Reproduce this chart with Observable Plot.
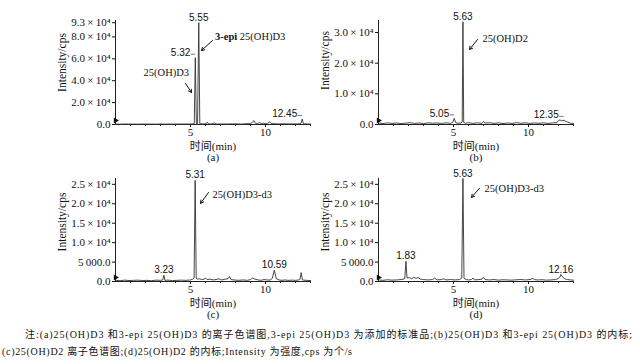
<!DOCTYPE html>
<html>
<head>
<meta charset="utf-8">
<script src="https://cdn.jsdelivr.net/npm/d3@7"></script>
<script src="https://cdn.jsdelivr.net/npm/@observablehq/plot@0.6"></script>
<style>
  html, body { margin: 0; padding: 0; background: #fff; }
  #root { position: relative; width: 640px; height: 364px; overflow: hidden; background: #fff; }
  .pnl { position: absolute; }
  #cap { position: absolute; left: 0; top: 320px; }
</style>
</head>
<body>
<div id="root"></div>
<script>
// ---------- data ----------
const X_TICKS = [5, 10];
const X_MINOR = [1, 2, 3, 4, 5, 6, 7, 8, 9, 10, 11, 12, 13];
const X_TITLE = "时间(min)";
const Y_TITLE = "Intensity/cps";

// (a)
const A_TIME = [0.0,0.3,0.6,0.9,1.2,1.5,1.8,2.1,2.4,2.7,3.0,3.3,3.6,3.9,4.2,4.5,4.8,5.1,5.25,5.32,5.39,5.47,5.55,5.62,5.75,5.9,6.05,6.12,6.2,6.35,6.5,6.58,6.7,6.9,7.2,7.5,7.8,8.1,8.4,8.7,9.0,9.12,9.22,9.32,9.45,9.6,9.72,9.85,10.0,10.15,10.28,10.38,10.5,10.7,10.9,11.2,11.5,11.8,12.1,12.3,12.38,12.45,12.52,12.6,12.8,13.0];
const A_INT  = [400,300,450,350,400,300,450,350,400,300,450,350,400,350,450,400,450,500,700,61000,600,800,93000,700,600,500,700,2200,600,500,700,1500,500,400,500,400,600,500,400,700,800,1800,3600,1200,900,1600,900,1200,700,1000,2400,900,700,600,500,700,500,600,500,700,1500,5000,900,700,500,400];
const A_YTICKS  = [0, 20000, 40000, 60000, 80000, 93000];
const A_YLABELS = ["0.0", "2.0\u2009×\u200910⁴", "4.0\u2009×\u200910⁴", "6.0\u2009×\u200910⁴", "8.0\u2009×\u200910⁴", "9.3\u2009×\u200910⁴"];
const A_TOP = ["5.55"];            const A_TOP_T = [5.55];  const A_TOP_V = [93000];
const A_SIDE = ["5.32", "12.45"];  const A_SIDE_T = [5.32, 12.45]; const A_SIDE_V = [61000, 5000];
const A_ANN = ["25(OH)D3"];        const A_ANN_T = [1.87]; const A_ANN_V = [47500];
const A_EPI = {bold: "3-epi", rest: " 25(OH)D3", t: 6.67, v: 79400};
const A_ARROW = {t1: [4.67, 6.47], v1: [37400, 76700], t2: [5.07, 5.73], v2: [29200, 67600]};

// (b)
const B_TIME = [0.0,0.3,0.6,0.9,1.2,1.5,1.8,2.1,2.4,2.7,3.0,3.3,3.6,3.9,4.2,4.5,4.8,4.95,5.05,5.15,5.3,5.5,5.58,5.63,5.68,5.8,6.0,6.3,6.6,6.9,7.0,7.1,7.4,7.7,8.0,8.3,8.6,8.9,9.2,9.5,9.8,10.1,10.4,10.7,11.0,11.3,11.6,11.9,12.0,12.1,12.2,12.3,12.4,12.5,12.6,12.7,12.8,13.0];
const B_INT  = [500,300,550,350,500,300,450,600,350,500,300,550,400,500,350,550,400,700,2000,600,400,500,800,33500,700,400,600,350,550,400,1000,450,600,350,550,300,500,350,600,400,550,350,500,400,550,350,500,600,1300,1500,1200,1400,1300,1000,800,600,400,350];
const B_YTICKS  = [0, 10000, 20000, 30000];
const B_YLABELS = ["0.0", "1.0\u2009×\u200910⁴", "2.0\u2009×\u200910⁴", "3.0\u2009×\u200910⁴"];
const B_TOP = ["5.63"];            const B_TOP_T = [5.63];  const B_TOP_V = [33500];
const B_SIDE = ["5.05", "12.35"];  const B_SIDE_T = [5.05, 12.35]; const B_SIDE_V = [2000, 1500];
const B_ANN = ["25(OH)D2"];        const B_ANN_T = [6.93]; const B_ANN_V = [28000];
const B_ARROW = {t1: [6.6], v1: [27700], t2: [6.07], v2: [24450]};

// (c)
const C_TIME = [0.0,0.3,0.6,0.9,1.2,1.5,1.8,2.1,2.4,2.7,3.0,3.15,3.23,3.3,3.5,3.8,4.1,4.4,4.7,5.0,5.15,5.24,5.31,5.38,5.5,5.6,5.75,5.9,6.0,6.1,6.3,6.5,6.7,6.9,7.0,7.1,7.3,7.5,7.6,7.7,7.9,8.2,8.5,8.8,9.0,9.15,9.3,9.5,9.7,9.9,10.1,10.3,10.45,10.59,10.72,10.9,11.1,11.3,11.5,11.8,12.0,12.2,12.3,12.38,12.46,12.7,13.0];
const C_INT  = [300,200,350,250,300,350,250,300,200,350,300,400,1600,300,350,250,300,350,300,400,600,900,26000,800,600,700,500,600,900,500,600,400,500,700,500,400,600,700,1300,500,400,300,400,300,500,900,600,400,300,500,400,350,800,2900,700,400,300,400,300,350,300,400,600,2300,400,300,250];
const C_YTICKS  = [0, 5000, 10000, 15000, 20000, 25000];
const C_YLABELS = ["0.0", "5\u2009000.0", "1.0\u2009×\u200910⁴", "1.5\u2009×\u200910⁴", "2.0\u2009×\u200910⁴", "2.5\u2009×\u200910⁴"];
const C_TOP = ["5.31", "3.23", "10.59"]; const C_TOP_T = [5.31, 3.23, 10.59]; const C_TOP_V = [26000, 1600, 2900];
const C_ANN = ["25(OH)D3-d3"];     const C_ANN_T = [6.47]; const C_ANN_V = [22400];
const C_ARROW = {t1: [6.2], v1: [22900], t2: [5.67], v2: [20100]};

// (d)
const D_TIME = [0.0,0.3,0.6,0.9,1.2,1.5,1.75,1.83,1.9,2.05,2.2,2.35,2.5,2.65,2.8,3.0,3.3,3.6,3.75,3.9,4.2,4.35,4.5,4.8,5.1,5.4,5.55,5.63,5.7,5.85,6.0,6.2,6.3,6.4,6.7,6.9,7.0,7.1,7.4,7.7,8.0,8.3,8.6,8.9,9.2,9.5,9.8,10.1,10.3,10.4,10.6,10.9,11.2,11.5,11.8,12.0,12.1,12.16,12.25,12.4,12.6,12.8,13.0];
const D_INT  = [400,300,450,350,400,500,700,5200,900,1000,700,1100,800,1000,600,500,400,500,900,400,500,700,400,500,400,500,900,26500,800,500,400,500,900,400,500,600,1100,500,400,500,350,450,400,350,450,500,400,500,800,500,400,450,350,400,500,800,1200,1800,1300,700,500,400,350];
const D_YTICKS  = C_YTICKS;
const D_YLABELS = C_YLABELS;
const D_TOP = ["5.63", "1.83", "12.16"]; const D_TOP_T = [5.63, 1.83, 12.16]; const D_TOP_V = [26500, 5200, 1800];
const D_ANN = ["25(OH)D3-d3"];     const D_ANN_T = [7.07]; const D_ANN_V = [23970];
const D_ARROW = {t1: [6.73], v1: [23970], t2: [6.2], v2: [21650]};

const PANEL_TAGS = ["(a)", "(b)", "(c)", "(d)"];
const CAPTION = [
  "注:(a)25(OH)D3 和3-epi 25(OH)D3 的离子色谱图,3-epi 25(OH)D3 为添加的标准品;(b)25(OH)D3 和3-epi 25(OH)D3 的内标;",
  "(c)25(OH)D2 离子色谱图;(d)25(OH)D2 的内标;Intensity 为强度,cps 为个/s"
];

// ---------- drawing ----------
const SERIF = "'Liberation Serif', 'Noto Sans CJK SC', serif";
const SANS = "'Liberation Sans', Arial, sans-serif";

function zipPts(ts, vs, extra) {
  return ts.map((t, i) => Object.assign({t, v: vs[i]}, extra ? extra(i) : {}));
}

function panel(o) {
  const rows = zipPts(o.time, o.int);
  const yLab = new Map(o.yticks.map((d, i) => [d, o.ylabels[i]]));
  const tops = zipPts(o.topT, o.topV, i => ({label: o.top[i]}));
  const sides = o.side ? zipPts(o.sideT, o.sideV, i => ({label: o.side[i]})) : [];
  const anns = zipPts(o.annT, o.annV, i => ({label: o.ann[i]}));
  const arrows = o.arrow.t1.map((t, i) => ({x1: t, y1: o.arrow.v1[i], x2: o.arrow.t2[i], y2: o.arrow.v2[i]}));
  const marks = [
    Plot.axisX({ticks: X_MINOR, tickSize: 2, tickFormat: () => "", label: null, stroke: "#222"}),
    Plot.axisX({ticks: X_TICKS, tickSize: 3, tickPadding: 1, label: null, fontSize: 11, fontFamily: SERIF}),
    Plot.axisY({ticks: o.yticks, tickFormat: d => yLab.get(d), tickSize: 3, tickPadding: 2, label: null, fontSize: 11, fontFamily: SERIF}),
    Plot.ruleX([0], {stroke: "#222"}),
    Plot.ruleY([0], {stroke: "#222"}),
    Plot.line(rows, {x: "t", y: "v", stroke: "#333", strokeWidth: 0.9}),
    Plot.dot([{t: 0, v: 0}], {x: "t", y: "v", symbol: "triangle", rotate: 90, r: 2.2, fill: "#111", stroke: "none", dy: -4}),
    Plot.text(tops, {x: "t", y: "v", text: "label", lineAnchor: "bottom", dy: -2, fontFamily: SANS, fontSize: 10, fill: "#111"}),
    Plot.text(sides, {x: "t", y: "v", text: "label", textAnchor: "end", dx: -5, dy: -5, fontFamily: SANS, fontSize: 10, fill: "#111"}),
    Plot.link(sides, {x1: d => d.t - 0.3, y1: d => d.v, x2: "t", y2: "v", dy: -3.5, stroke: "#444", strokeWidth: 0.7}),
    Plot.text(anns, {x: "t", y: "v", text: "label", textAnchor: "start", fontFamily: SERIF, fontSize: 10.5, fill: "#111"}),
    Plot.arrow(arrows, {x1: "x1", y1: "y1", x2: "x2", y2: "y2", stroke: "#111", strokeWidth: 1, headLength: 5}),
    Plot.text([Y_TITLE], {frameAnchor: "left", textAnchor: "middle", lineAnchor: "middle", rotate: -90, dx: -(o.ml - o.ylx), dy: o.yly, fontFamily: SERIF, fontSize: 11.5, fill: "#111"}),
    Plot.text([X_TITLE], {frameAnchor: "bottom", lineAnchor: "middle", dy: 22, fontFamily: SERIF, fontSize: 11, fill: "#111"}),
    Plot.text([o.tag], {frameAnchor: "bottom", lineAnchor: "middle", dy: 33, fontFamily: SERIF, fontSize: 11, fill: "#111"})
  ];
  const svg = Plot.plot({
    width: o.w, height: o.h,
    marginLeft: o.ml, marginRight: o.mr, marginTop: o.mt, marginBottom: o.mb,
    style: {background: "transparent", color: "#111", fontFamily: SERIF, overflow: "visible"},
    x: {domain: [0, 13], label: null},
    y: {domain: [0, o.ymax], label: null},
    marks
  });
  svg.classList.add("pnl");
  svg.style.left = o.left + "px";
  svg.style.top = o.top0 + "px";
  return svg;
}

const root = document.getElementById("root");

const pa = panel({
  time: A_TIME, int: A_INT, yticks: A_YTICKS, ylabels: A_YLABELS, ymax: 95000,
  top: A_TOP, topT: A_TOP_T, topV: A_TOP_V, side: A_SIDE, sideT: A_SIDE_T, sideV: A_SIDE_V,
  ann: A_ANN, annT: A_ANN_T, annV: A_ANN_V, arrow: A_ARROW, tag: PANEL_TAGS[0],
  w: 320, h: 165, ml: 115, mr: 10, mt: 20, mb: 41, left: 0, top0: 0, ylx: 62, yly: -10
});
root.appendChild(pa);

const pb = panel({
  time: B_TIME, int: B_INT, yticks: B_YTICKS, ylabels: B_YLABELS, ymax: 33900,
  top: B_TOP, topT: B_TOP_T, topV: B_TOP_V, side: B_SIDE, sideT: B_SIDE_T, sideV: B_SIDE_V,
  ann: B_ANN, annT: B_ANN_T, annV: B_ANN_V, arrow: B_ARROW, tag: PANEL_TAGS[1],
  w: 320, h: 165, ml: 58, mr: 67, mt: 20, mb: 41, left: 320, top0: 0, ylx: 5, yly: -12
});
root.appendChild(pb);

const pc = panel({
  time: C_TIME, int: C_INT, yticks: C_YTICKS, ylabels: C_YLABELS, ymax: 26500,
  top: C_TOP, topT: C_TOP_T, topV: C_TOP_V,
  ann: C_ANN, annT: C_ANN_T, annV: C_ANN_V, arrow: C_ARROW, tag: PANEL_TAGS[2],
  w: 320, h: 155, ml: 115, mr: 10, mt: 13, mb: 39, left: 0, top0: 165, ylx: 62, yly: -8
});
root.appendChild(pc);

const pd = panel({
  time: D_TIME, int: D_INT, yticks: D_YTICKS, ylabels: D_YLABELS, ymax: 26500,
  top: D_TOP, topT: D_TOP_T, topV: D_TOP_V,
  ann: D_ANN, annT: D_ANN_T, annV: D_ANN_V, arrow: D_ARROW, tag: PANEL_TAGS[3],
  w: 320, h: 155, ml: 58, mr: 67, mt: 13, mb: 39, left: 320, top0: 165, ylx: 5, yly: -8
});
root.appendChild(pd);

// "3-epi 25(OH)D3" with bold prefix, placed through panel (a)'s scales
{
  const xs = pa.scale("x"), ys = pa.scale("y");
  const px = xs.apply(A_EPI.t), py = ys.apply(A_EPI.v);
  const ns = "http://www.w3.org/2000/svg";
  const t = document.createElementNS(ns, "text");
  t.setAttribute("x", px); t.setAttribute("y", py);
  t.setAttribute("dy", "0.32em");
  t.setAttribute("text-anchor", "start");
  t.setAttribute("font-family", SERIF);
  t.setAttribute("font-size", "10.5");
  t.setAttribute("fill", "#111");
  const b = document.createElementNS(ns, "tspan");
  b.setAttribute("font-weight", "bold"); b.textContent = A_EPI.bold;
  const r = document.createElementNS(ns, "tspan");
  r.textContent = A_EPI.rest;
  t.appendChild(b); t.appendChild(r);
  pa.appendChild(t);
}

// caption
{
  const ns = "http://www.w3.org/2000/svg";
  const svg = document.createElementNS(ns, "svg");
  svg.setAttribute("width", 640); svg.setAttribute("height", 44);
  svg.setAttribute("id", "cap");
  const lines = [{x: 25, y: 18, len: 607}, {x: 2, y: 35, len: 350}];
  CAPTION.forEach((s, i) => {
    const t = document.createElementNS(ns, "text");
    t.setAttribute("x", lines[i].x); t.setAttribute("y", lines[i].y);
    t.setAttribute("font-family", SERIF);
    t.setAttribute("font-size", "10");
    t.setAttribute("fill", "#111");
    t.setAttribute("textLength", lines[i].len);
    t.setAttribute("lengthAdjust", "spacing");
    t.textContent = s;
    svg.appendChild(t);
  });
  root.appendChild(svg);
}
</script>
</body>
</html>
